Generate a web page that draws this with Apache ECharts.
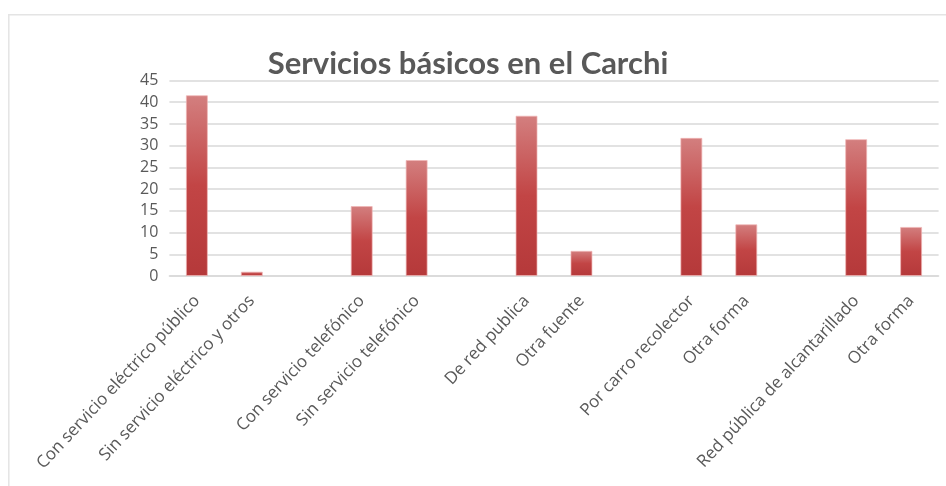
<!DOCTYPE html>
<html>
<head>
<meta charset="utf-8">
<script src="https://cdn.jsdelivr.net/npm/echarts@6/dist/echarts.min.js"></script>
<style>
html,body{margin:0;padding:0;background:#fff;}
#c{width:946px;height:486px;}
</style>
</head>
<body>
<div id="c"></div>
<script>
const title = 'Servicios básicos en el Carchi';
const categories = [
  'Con servicio eléctrico público', 'Sin servicio eléctrico y otros', '',
  'Con servicio telefónico', 'Sin servicio telefónico', '',
  'De red publica', 'Otra fuente', '',
  'Por carro recolector', 'Otra forma', '',
  'Red pública de alcantarillado', 'Otra forma'
];
const values = [41.6, 1.0, '-', 16.1, 26.7, '-', 36.9, 5.8, '-', 31.8, 11.9, '-', 31.5, 11.3];
const yTicks = {min: 0, max: 45, interval: 5};

const chart = echarts.init(document.getElementById('c'), null, {renderer: 'canvas'});
chart.setOption({
  animation: false,
  backgroundColor: '#fff',
  title: {
    text: title,
    left: 463,
    textAlign: 'center',
    top: 43,
    textStyle: {fontFamily: 'Lato', fontWeight: 'bold', fontSize: 31, color: '#595959'}
  },
  graphic: [
    {type: 'line', shape: {x1: 8, y1: 14.8, x2: 946, y2: 14.8}, style: {stroke: '#e4e4e4', lineWidth: 1.5}, silent: true},
    {type: 'line', shape: {x1: 8.8, y1: 14, x2: 8.8, y2: 486}, style: {stroke: '#e4e4e4', lineWidth: 1.5}, silent: true}
  ],
  grid: {left: 169.4, right: 7.4, top: 80.5, bottom: 210, containLabel: false},
  xAxis: {
    type: 'category',
    data: categories,
    axisLine: {lineStyle: {color: '#d9d9d9', width: 1.5}},
    axisTick: {show: false},
    axisLabel: {
      interval: 0, rotate: 47, margin: 22,
      fontFamily: 'Open Sans', fontSize: 17, color: '#595959'
    }
  },
  yAxis: {
    type: 'value',
    min: yTicks.min, max: yTicks.max, interval: yTicks.interval,
    axisLine: {show: false},
    axisTick: {show: false},
    splitLine: {lineStyle: {color: '#d9d9d9', width: 1.5}},
    axisLabel: {margin: 11, fontFamily: 'Open Sans', fontSize: 16, color: '#595959'}
  },
  series: [{
    type: 'bar',
    data: values,
    barWidth: '40%',
    itemStyle: {
      color: new echarts.graphic.LinearGradient(0, 0, 0, 1, [
        {offset: 0, color: '#d37f7f'},
        {offset: 0.5, color: '#c24545'},
        {offset: 1, color: '#b5393a'}
      ]),
      borderColor: 'rgba(240,180,180,0.7)',
      borderWidth: 1
    }
  }]
});
</script>
</body>
</html>
